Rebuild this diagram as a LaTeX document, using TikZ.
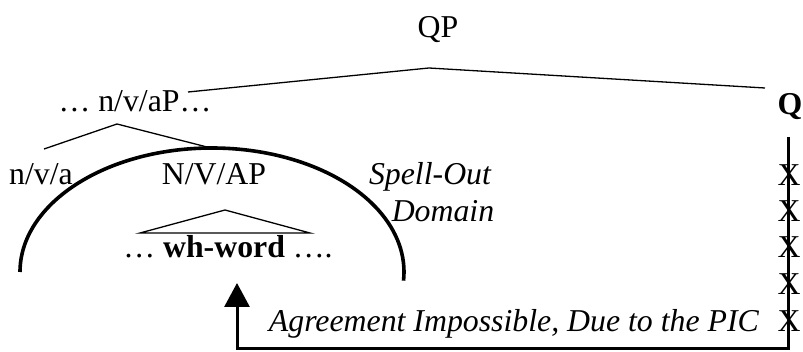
\documentclass[tikz,border=0pt]{standalone}
\usepackage{fontspec}
\setmainfont{Liberation Serif}
\usetikzlibrary{arrows.meta}
\begin{document}
\begin{tikzpicture}[x=1pt,y=-1pt,
  lbl/.style={inner sep=0pt,anchor=base,font=\fontsize{31.8}{36}\selectfont},
  branch/.style={line width=1.3pt},
  spellarc/.style={line width=3.6pt},
  agree/.style={line width=3pt}]
\useasboundingbox (0,0) rectangle (803,352);

% labels of the tree
\node[lbl] (qp) at (438,38) {QP};
\node[lbl] (nvap) at (135,112) {… n/v/aP…};
\node[lbl] (q) at (790,115) {\textbf{Q}};
\node[lbl] (nva) at (41,185) {n/v/a};
\node[lbl] (NVAP) at (214,185) {N/V/AP};
\node[lbl] (spell) at (430,185) {\itshape Spell-Out};
\node[lbl] (dom) at (443,222) {\itshape Domain};
\node[lbl] (wh) at (228,258) {… \textbf{wh-word} ….};
\node[lbl,anchor=base east] (agr) at (759,332) {\itshape Agreement Impossible, Due to the PIC};

% branches
\coordinate (qptop) at (429,68);
\coordinate (qpl) at (188,92);
\coordinate (qpr) at (765,88);
\draw[branch] (qpl) -- (qptop) -- (qpr);
\coordinate (vtop) at (117,124);
\coordinate (vl) at (44,149);
\coordinate (vr) at (207,147);
\draw[branch] (vl) -- (vtop) -- (vr);

% wh-word triangle
\coordinate (tritop) at (225,210);
\coordinate (tril) at (140,233);
\coordinate (trir) at (310,233);
\draw[branch] (tril) -- (tritop) -- (trir) -- cycle;

% spell-out domain arc
\coordinate (arcl) at (20,272);
\draw[spellarc] (arcl) arc[start angle=180,end angle=-4,x radius=192,y radius=-124];

% failed agreement path with crossed steps
\foreach \i/\yy in {1/186,2/222,3/258,4/295,5/332}
  \node[lbl] (x\i) at (789,\yy) {X};
\coordinate (ctop) at (788,137);
\coordinate (cbot) at (788,349);
\coordinate (abot) at (237,349);
\coordinate (atip) at (237,283);
\draw[agree,-{Triangle[length=24pt,width=25pt]}] (ctop) -- (cbot) -- (abot) -- (atip);
\end{tikzpicture}
\end{document}
